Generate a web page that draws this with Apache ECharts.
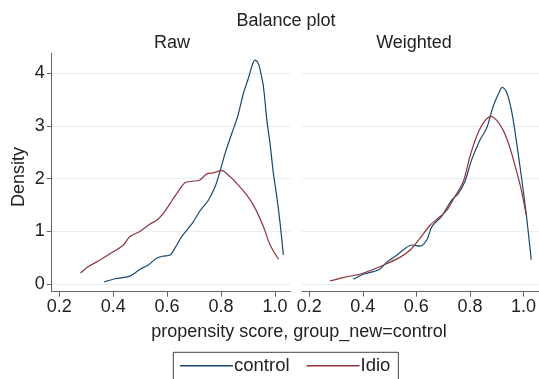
<!DOCTYPE html>
<html>
<head>
<meta charset="utf-8">
<script src="https://cdn.jsdelivr.net/npm/echarts@6/dist/echarts.min.js"></script>
<style>html,body{margin:0;padding:0;background:#fff}#c{width:539px;height:379px}</style>
</head>
<body>
<div id="c"></div>
<script>
const seriesNames = ['control', 'Idio'];
const panelTitles = ['Raw', 'Weighted'];
const xTicks = [0.2, 0.4, 0.6, 0.8, 1.0];
const yTicks = [0, 1, 2, 3, 4];

const rawControlX = [.367,.407,.462,.50,.53,.561,.586,.611,.629,.654,.679,.697,.722,.753,.778,.794,.815,.840,.861,.883,.901,.918,.926,.938,.945,.957,.97,.982,.994,1.007,1.019,1.031];
const rawControlY = [.04,.10,.15,.28,.36,.49,.53,.55,.68,.90,1.06,1.18,1.39,1.59,1.85,2.10,2.48,2.86,3.17,3.62,3.90,4.19,4.25,4.19,4.06,3.75,3.1,2.65,2.1,1.65,1.15,.55];
const rawIdioX = [.279,.308,.351,.40,.438,.462,.50,.537,.561,.586,.611,.636,.666,.691,.72,.747,.771,.802,.833,.858,.895,.926,.957,.982,1.013];
const rawIdioY = [.21,.33,.455,.61,.74,.90,1.0,1.14,1.21,1.34,1.53,1.72,1.92,1.95,1.97,2.09,2.11,2.15,2.04,1.91,1.69,1.44,1.09,.74,.47];
const wtControlX = [.365,.404,.46,.491,.528,.559,.584,.614,.639,.658,.695,.732,.757,.781,.806,.837,.862,.886,.905,.921,.936,.955,.973,.992,1.010,1.029];
const wtControlY = [.089,.19,.27,.42,.55,.68,.74,.72,.835,1.09,1.29,1.59,1.72,1.94,2.35,2.73,2.95,3.36,3.59,3.73,3.65,3.30,2.73,2.04,1.34,.46];
const wtIdioX = [.277,.33,.392,.441,.491,.540,.577,.614,.652,.689,.714,.744,.775,.80,.825,.849,.878,.899,.924,.948,.973,.992,1.010];
const wtIdioY = [.057,.127,.19,.28,.39,.51,.645,.87,1.12,1.28,1.40,1.66,1.94,2.42,2.80,3.05,3.18,3.11,2.92,2.61,2.16,1.78,1.31];

const zip = (xs, ys) => xs.map((x, i) => [x, ys[i]]);
const FONT = '"Liberation Sans", Arial, Helvetica, sans-serif';
const TXT = '#222';
const NAVY = '#1a476f';
const MAROON = '#90353b';
const GRIDC = '#e5eef1';
const AXC = '#666';
const FS = 18;

function xAxis(idx) {
  return {
    type: 'value', gridIndex: idx, min: 0.172, max: 1.0575,
    axisLine: { show: true, onZero: false, lineStyle: { color: AXC, width: 1 } },
    axisTick: { show: true, length: 5, customValues: xTicks, lineStyle: { color: AXC } },
    axisLabel: { customValues: xTicks, margin: 6, color: TXT, fontSize: FS, fontFamily: FONT,
      formatter: v => v.toFixed(1) },
    splitLine: { show: false }
  };
}
function yAxis(idx) {
  return {
    type: 'value', gridIndex: idx, min: -0.146, max: 4.378,
    axisLine: { show: idx === 0, lineStyle: { color: AXC, width: 1 } },
    axisTick: { show: idx === 0, length: 5, customValues: yTicks, lineStyle: { color: AXC } },
    axisLabel: { show: idx === 0, customValues: yTicks, margin: 7, color: TXT, fontSize: FS, fontFamily: FONT },
    splitLine: { show: true, lineStyle: { color: GRIDC, width: 1 } }
  };
}
function line(name, data, color, idx) {
  return { name, type: 'line', xAxisIndex: idx, yAxisIndex: idx, data, showSymbol: false,
    smooth: 0.3, lineStyle: { color, width: 1.2 }, itemStyle: { color }, silent: true, animation: false };
}

const chart = echarts.init(document.getElementById('c'), null, { renderer: 'canvas' });
chart.setOption({
  animation: false,
  backgroundColor: '#fff',
  grid: [
    { left: 51.7, top: 53.3, width: 238.8, height: 238.4 },
    { left: 301.7, top: 53.3, width: 238.8, height: 238.4 }
  ],
  xAxis: [xAxis(0), xAxis(1)],
  yAxis: [yAxis(0), yAxis(1)],
  legend: {
    data: seriesNames, left: 173.3, top: 352.3, orient: 'horizontal',
    icon: 'rect', itemWidth: 53, itemHeight: 1.5, itemGap: 17,
    padding: [4, 8, 12, 6.7], borderColor: '#444', borderWidth: 1,
    textStyle: { color: TXT, fontSize: 18.5, fontFamily: FONT, padding: [0, 0, 0, -4] }
  },
  graphic: [
    { type: 'text', x: 286, y: 21, style: { text: 'Balance plot', fill: TXT, font: FS + 'px ' + FONT, textAlign: 'center', textVerticalAlign: 'middle' } },
    { type: 'text', x: 172, y: 43, style: { text: panelTitles[0], fill: TXT, font: FS + 'px ' + FONT, textAlign: 'center', textVerticalAlign: 'middle' } },
    { type: 'text', x: 414, y: 43, style: { text: panelTitles[1], fill: TXT, font: FS + 'px ' + FONT, textAlign: 'center', textVerticalAlign: 'middle' } },
    { type: 'text', x: 19, y: 177, rotation: Math.PI / 2, style: { text: 'Density', fill: TXT, font: FS + 'px ' + FONT, textAlign: 'center', textVerticalAlign: 'middle' } },
    { type: 'text', x: 299, y: 332, style: { text: 'propensity score, group_new=control', fill: TXT, font: FS + 'px ' + FONT, textAlign: 'center', textVerticalAlign: 'middle' } }
  ],
  series: [
    line(seriesNames[0], zip(rawControlX, rawControlY), NAVY, 0),
    line(seriesNames[1], zip(rawIdioX, rawIdioY), MAROON, 0),
    line(seriesNames[0], zip(wtControlX, wtControlY), NAVY, 1),
    line(seriesNames[1], zip(wtIdioX, wtIdioY), MAROON, 1)
  ]
});
</script>
</body>
</html>
